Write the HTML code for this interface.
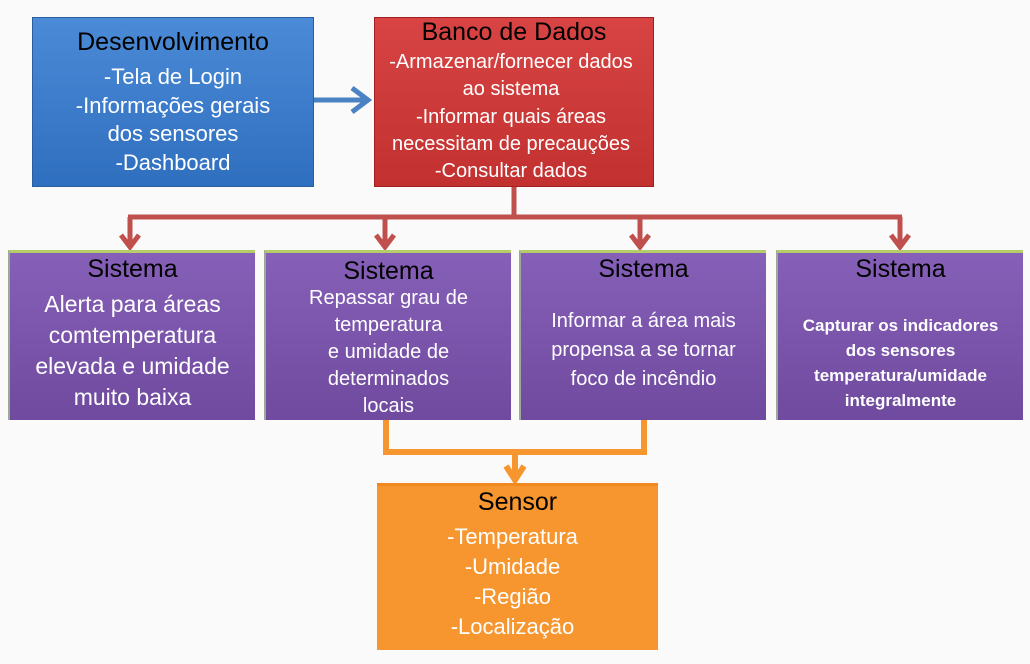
<!DOCTYPE html>
<html><head><meta charset="utf-8"><style>
body{margin:0;width:1030px;height:664px;background:#fafafa;position:relative;overflow:hidden;font-family:"Liberation Sans",sans-serif}
.b{position:absolute;box-sizing:border-box;text-align:center;overflow:hidden}
.blue{left:32px;top:17px;width:282px;height:170px;background:linear-gradient(#4a8ad6,#2f6fbf);border:1px solid #2a5f9f;color:#fff}
.red{left:374px;top:17px;width:280px;height:170px;background:linear-gradient(#d84444,#c23030);border:1px solid #a02020;color:#fff}
.pur{top:250px;width:247px;height:170px;background:linear-gradient(#8660b8,#6f4a9e);border-top:3px solid #b4cc6a;border-left:2px solid #9a9;color:#fff}
.org{left:377px;top:483px;width:281px;height:167px;background:#f7952e;border-top:3px solid #f08a20;color:#fff}
.t{color:#000;font-size:25px;line-height:28px;display:block}
.s{font-size:21px;line-height:28px}
</style></head><body>
<svg width="1030" height="664" style="position:absolute;left:0;top:0">
<g stroke="#4a82c4" stroke-width="5" fill="none"><line x1="314" y1="100" x2="366" y2="100"/><polyline points="352,88 368,100 352,112"/></g>
<g stroke="#c0504d" stroke-width="5" fill="none">
<line x1="514" y1="187" x2="514" y2="217"/><line x1="128" y1="217" x2="902" y2="217"/>
<line x1="130" y1="217" x2="130" y2="246"/><line x1="385" y1="217" x2="385" y2="246"/><line x1="640" y1="217" x2="640" y2="246"/><line x1="900" y1="217" x2="900" y2="246"/>
<polyline points="121,235 130,247 139,235"/><polyline points="376,235 385,247 394,235"/><polyline points="631,235 640,247 649,235"/><polyline points="891,235 900,247 909,235"/>
</g>
<g stroke="#f7962f" stroke-width="6" fill="none">
<line x1="386" y1="420" x2="386" y2="452"/><line x1="644" y1="420" x2="644" y2="452"/><line x1="383" y1="452" x2="647" y2="452"/>
<line x1="515" y1="452" x2="515" y2="480"/><polyline points="506,466 515,480 524,466"/>
</g>
</svg>
<div class="b blue"><span class="t" style="margin-top:10px;font-size:25px">Desenvolvimento</span><div class="s" style="margin-top:7px;font-size:22px;line-height:28.5px">-Tela de Login<br>-Informações gerais<br>dos sensores<br>-Dashboard</div></div>
<div class="b red"><span class="t" style="margin-top:0">Banco de Dados</span><div class="s" style="font-size:20px;line-height:27.3px;margin-top:3px;white-space:nowrap;margin-left:-6px">-Armazenar/fornecer dados<br>ao sistema<br>-Informar quais áreas<br>necessitam de precauções<br>-Consultar dados</div></div>
<div class="b pur" style="left:8px"><span class="t" style="margin-top:2px">Sistema</span><div class="s" style="font-size:23px;line-height:31px;margin-top:6px">Alerta para áreas<br>comtemperatura<br>elevada e umidade<br>muito baixa</div></div>
<div class="b pur" style="left:264px"><span class="t" style="margin-top:4px">Sistema</span><div class="s" style="font-size:20px;line-height:27px">Repassar grau de<br>temperatura<br>e umidade de<br>determinados<br>locais</div></div>
<div class="b pur" style="left:519px"><span class="t" style="margin-top:2px">Sistema</span><div class="s" style="font-size:20px;line-height:29px;margin-top:24px;white-space:nowrap">Informar a área mais<br>propensa a se tornar<br>foco de incêndio</div></div>
<div class="b pur" style="left:776px"><span class="t" style="margin-top:2px">Sistema</span><div class="s" style="font-size:17px;line-height:25px;margin-top:30px;font-weight:bold;white-space:nowrap">Capturar os indicadores<br>dos sensores<br>temperatura/umidade<br>integralmente</div></div>
<div class="b org"><span class="t" style="margin-top:2px">Sensor</span><div class="s" style="font-size:22px;line-height:30px;margin-top:6px;margin-left:-10px">-Temperatura<br>-Umidade<br>-Região<br>-Localização</div></div>
</body></html>
